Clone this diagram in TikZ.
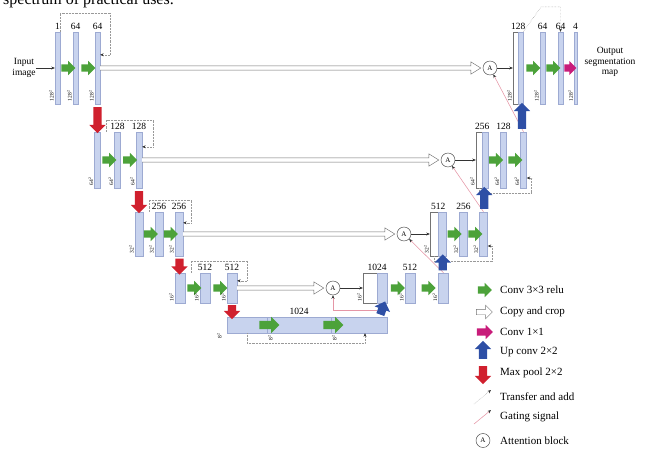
\documentclass[tikz,border=0pt]{standalone}
\usepackage{fontspec}
\setmainfont{Liberation Serif}
\usetikzlibrary{positioning,calc,shapes.arrows,arrows.meta}
\begin{document}
\begin{tikzpicture}[
    x=1pt,y=-1pt,
    font=\rmfamily\fontsize{9.5}{10.5}\selectfont,
    bar/.style={draw=barline,fill=barfill,line width=.4pt,inner sep=0pt},
    cbar/.style={draw=black!55,fill=white},
    lvone/.style={bar,minimum width=5pt,minimum height=72pt},
    lvtwo/.style={bar,minimum width=6pt,minimum height=56pt},
    lvthree/.style={bar,minimum width=8pt,minimum height=44pt},
    lvfour/.style={bar,minimum width=10pt,minimum height=30pt},
    botbar/.style={bar,minimum height=16pt},
    conv/.style={single arrow,fill=convgreen,inner sep=0pt,inner ysep=3.5pt,
      minimum height=14pt,single arrow head extend=3.5pt},
    convone/.style={conv,fill=convmag,minimum height=12pt},
    upconv/.style={conv,fill=upblue,rotate=90,inner ysep=4pt,single arrow head extend=4pt},
    maxpool/.style={conv,fill=poolred,rotate=-90,inner ysep=4pt,single arrow head extend=4pt,
      minimum height=22pt},
    copyicon/.style={single arrow,draw=black!55,fill=white,line width=.45pt,inner sep=0pt,
      inner ysep=2.5pt,minimum height=16pt,single arrow head extend=4pt},
    attn/.style={circle,draw=black!75,line width=.45pt,inner sep=0pt,minimum size=14pt,
      font=\rmfamily\fontsize{7}{7}\selectfont},
    copyarr/.style={draw=black!55,fill=white,line width=.45pt},
    thinarr/.style={draw=black!80,line width=.4pt,-{Stealth[length=3.5pt,width=3pt]}},
    transfer/.style={draw=black!40,densely dotted,line width=.45pt,
      -{Stealth[length=3.5pt,width=3pt,color=black!80]}},
    gating/.style={draw=gatepink,line width=.55pt,-{Stealth[length=3.5pt,width=3pt,color=black!80]}},
    sz/.style={rotate=90,inner sep=0pt,font=\rmfamily\fontsize{5.5}{6}\selectfont},
    lbl/.style={inner sep=0pt},
    legtext/.style={lbl,anchor=west,font=\rmfamily\fontsize{11}{12}\selectfont}
  ]
    \definecolor{barfill}{HTML}{C8D3EE}
    \definecolor{barline}{HTML}{9DAAD2}
    \definecolor{convgreen}{HTML}{4CA23A}
    \definecolor{convmag}{HTML}{C81C7A}
    \definecolor{upblue}{HTML}{2E4FA5}
    \definecolor{poolred}{HTML}{D0202E}
    \definecolor{gatepink}{HTML}{E596A6}
    \path[use as bounding box] (0,0) rectangle (649,448);
    \clip (0,0) rectangle (649,448);
    \node[lbl,anchor=base west,font=\rmfamily\fontsize{16}{16}\selectfont] (hdr) at (3,4)
      {spectrum of practical uses.};
    % encoder
    \node[lvone] (e11) at (57.5,68) {};
    \node[lvone] (e12) at (75.5,68) {};
    \node[lvone] (e13) at (97.5,68) {};
    \node[lvtwo] (e21) at (97.5,160) {};
    \node[lvtwo] (e22) at (117.5,160) {};
    \node[lvtwo] (e23) at (139,160) {};
    \node[lvthree] (e31) at (139,234) {};
    \node[lvthree] (e32) at (159,234) {};
    \node[lvthree] (e33) at (179,234) {};
    \node[lvfour] (e41) at (180,288) {};
    \node[lvfour] (e42) at (205,288) {};
    \node[lvfour] (e43) at (232,288) {};
    \node[botbar,minimum width=40pt] (b1) at (247,325) {};
    \node[botbar,minimum width=64pt] (b2) at (299,325) {};
    \node[botbar,minimum width=56pt] (b3) at (359,325) {};
    % decoder
    \node[lvfour,cbar,minimum width=14pt] (d4w) at (370,288) {};
    \node[lvfour] (d4b) at (382,288) {};
    \node[lvfour] (d42) at (410,288) {};
    \node[lvfour] (d43) at (443.5,288) {};
    \node[lvthree,cbar] (d3w) at (434,234) {};
    \node[lvthree] (d3b) at (442,234) {};
    \node[lvthree] (d32) at (463.5,234) {};
    \node[lvthree] (d33) at (483.5,234) {};
    \node[lvtwo,cbar] (d2w) at (479,160) {};
    \node[lvtwo] (d2b) at (485,160) {};
    \node[lvtwo] (d22) at (503.5,160) {};
    \node[lvtwo] (d23) at (523.5,160) {};
    \node[lvone,cbar] (d1w) at (515.5,68) {};
    \node[lvone] (d1b) at (520.5,68) {};
    \node[lvone] (d12) at (542.5,68) {};
    \node[lvone] (d13) at (560.5,68) {};
    \node[lvone,minimum width=2.5pt] (d14) at (575.5,68) {};
    \node[attn] (a1) at (490,68) {A};
    \node[attn] (a2) at (448,160) {A};
    \node[attn] (a3) at (404,234) {A};
    \node[attn] (a4) at (333,288) {A};
    % transfer and add
    \draw[transfer] (e11.north east) |- ($(e13.north east)+(10,-19)$) |- ($(e13.north east)+(0,23)$);
    \draw[transfer] ($(e21.north east)+(6,0)$) |- ($(e23.north east)+(11,-12)$) |- ($(e23.north east)+(0,15)$);
    \draw[transfer] ($(e31.north east)+(6,0)$) |- ($(e33.north east)+(8,-12)$) |- ($(e33.north east)+(0,11)$);
    \draw[transfer] ($(e41.north east)+(6,0)$) |- ($(e43.north east)+(10,-12)$) |- ($(e43.north east)+(0,8)$);
    \draw[transfer] (b1.south) |- ($(b3.south)+(6,10)$) -- ($(b3.south)+(6,0)$);
    \draw[transfer] (d1b.north east) -- ++(18,-25) -| (d13.north);
    \draw[transfer] (d2w.south) |- ($(d23.south east)+(5,5)$) |- ($(d23.east)+(0,18)$);
    \draw[transfer] (d3w.south) |- ($(d33.south east)+(5,5)$) |- ($(d33.east)+(0,12)$);
    % gating signal
    \draw[gating] (d23.north) -- (a1);
    \draw[gating] (d33.north) -- (a2);
    \draw[gating] (d43.north) -- (a3);
    % copy and crop
    \draw[copyarr] ($(e13.east)+(0,-2.2)$) -- ($(a1.west)+(-12,-2.2)$) -- ++(0,-4) -- ($(a1.west)+(-2,0)$)
      -- ($(a1.west)+(-12,6.2)$) -- ++(0,-4) -- ($(e13.east)+(0,2.2)$);
    \draw[copyarr] ($(e23.east)+(0,-2.2)$) -- ($(a2.west)+(-12,-2.2)$) -- ++(0,-4) -- ($(a2.west)+(-2,0)$)
      -- ($(a2.west)+(-12,6.2)$) -- ++(0,-4) -- ($(e23.east)+(0,2.2)$);
    \draw[copyarr] ($(e33.east)+(0,-2.2)$) -- ($(a3.west)+(-12,-2.2)$) -- ++(0,-4) -- ($(a3.west)+(-2,0)$)
      -- ($(a3.west)+(-12,6.2)$) -- ++(0,-4) -- ($(e33.east)+(0,2.2)$);
    \draw[copyarr] ($(e43.east)+(0,-2.2)$) -- ($(a4.west)+(-12,-2.2)$) -- ++(0,-4) -- ($(a4.west)+(-2,0)$)
      -- ($(a4.west)+(-12,6.2)$) -- ++(0,-4) -- ($(e43.east)+(0,2.2)$);
    \draw[thinarr] (a1) -- (d1w);
    \draw[thinarr] (a2) -- (d2w);
    \draw[thinarr] (a3) -- (d3w);
    \draw[thinarr] (a4) -- (d4w);
    % conv 3x3
    \node[conv] (c11) at ($(e11.east)!.5!(e12.west)$) {};
    \node[conv] (c12) at ($(e12.east)!.5!(e13.west)$) {};
    \node[conv] (c21) at ($(e21.east)!.5!(e22.west)$) {};
    \node[conv] (c22) at ($(e22.east)!.5!(e23.west)$) {};
    \node[conv] (c31) at ($(e31.east)!.5!(e32.west)$) {};
    \node[conv] (c32) at ($(e32.east)!.5!(e33.west)$) {};
    \node[conv] (c41) at ($(e41.east)!.5!(e42.west)$) {};
    \node[conv] (c42) at ($(e42.east)!.5!(e43.west)$) {};
    \node[conv,minimum height=20pt,inner ysep=4pt,single arrow head extend=4pt] (cb1) at (b1.east) {};
    \node[conv,minimum height=20pt,inner ysep=4pt,single arrow head extend=4pt] (cb2) at (b2.east) {};
    \node[conv] (k41) at ($(d4b.east)!.5!(d42.west)$) {};
    \node[conv] (k42) at ($(d42.east)!.5!(d43.west)$) {};
    \node[conv] (k31) at ($(d3b.east)!.5!(d32.west)$) {};
    \node[conv] (k32) at ($(d32.east)!.5!(d33.west)$) {};
    \node[conv] (k21) at ($(d2b.east)!.5!(d22.west)$) {};
    \node[conv] (k22) at ($(d22.east)!.5!(d23.west)$) {};
    \node[conv] (k11) at ($(d1b.east)!.5!(d12.west)$) {};
    \node[conv] (k12) at ($(d12.east)!.5!(d13.west)$) {};
    \node[convone] (k13) at ($(d13.east)!.5!(d14.west)$) {};
    % max pool
    \node[maxpool,minimum height=26pt] (p1) at ($(e13.south)!.5!(e21.north)$) {};
    \node[maxpool] (p2) at ($(e23.south)!.5!(e31.north)$) {};
    \node[maxpool,minimum height=16pt] (p3) at ($(e33.south)!.5!(e41.north)$) {};
    \node[maxpool,minimum height=14pt] (p4) at ($(e43.south)!.5!(e43.south|-b1.north)$) {};
    % up conv
    \node[upconv,minimum height=26pt] (u1) at ($(d23.north)!.5!(d1b.south)$) {};
    \node[upconv,minimum height=22pt] (u2) at ($(d33.north)!.5!(d2b.south)$) {};
    \node[upconv,minimum height=16pt] (u3) at ($(d43.north)!.5!(d3b.south)$) {};
    \node[upconv,minimum height=14pt,rotate=-20] (u4) at ($(d4b.south)!.5!(d4b.south|-b3.north)$) {};
    \draw[gating] (u4) -| (a4);
    % channels
    \node[lbl,above=2pt of e11] (l11) {1};
    \node[lbl,above=2pt of e12] (l12) {64};
    \node[lbl,above=2pt of e13] (l13) {64};
    \node[lbl,above=2pt of e22] (l22) {128};
    \node[lbl,above=2pt of e23] (l23) {128};
    \node[lbl,above=2pt of e32] (l32) {256};
    \node[lbl,above=2pt of e33] (l33) {256};
    \node[lbl,above=2pt of e42] (l42) {512};
    \node[lbl,above=2pt of e43] (l43) {512};
    \node[lbl,above=2pt of b2] (lb2) {1024};
    \node[lbl,above=2pt of d4w.north east] (m4) {1024};
    \node[lbl,above=2pt of d42] (m42) {512};
    \node[lbl,above=2pt of d3w.north east] (m3) {512};
    \node[lbl,above=2pt of d32] (m32) {256};
    \node[lbl,above=2pt of d2w.north east] (m2) {256};
    \node[lbl,above=2pt of d22] (m22) {128};
    \node[lbl,above=2pt of d1w.north east] (m1) {128};
    \node[lbl,above=2pt of d12] (m12) {64};
    \node[lbl,above=2pt of d13] (m13) {64};
    \node[lbl,above=2pt of d14] (m14) {4};
    % sizes
    \node[sz,anchor=south west] (s11) at ($(e11.south west)+(-1,-3)$) {128\textsuperscript{2}};
    \node[sz,anchor=south west] (s12) at ($(e12.south west)+(-1,-3)$) {128\textsuperscript{2}};
    \node[sz,anchor=south west] (s13) at ($(e13.south west)+(-1,-3)$) {128\textsuperscript{2}};
    \node[sz,anchor=south west] (s21) at ($(e21.south west)+(-1,-3)$) {64\textsuperscript{2}};
    \node[sz,anchor=south west] (s22) at ($(e22.south west)+(-1,-3)$) {64\textsuperscript{2}};
    \node[sz,anchor=south west] (s23) at ($(e23.south west)+(-1,-3)$) {64\textsuperscript{2}};
    \node[sz,anchor=south west] (s31) at ($(e31.south west)+(-1,-3)$) {32\textsuperscript{2}};
    \node[sz,anchor=south west] (s32) at ($(e32.south west)+(-1,-3)$) {32\textsuperscript{2}};
    \node[sz,anchor=south west] (s33) at ($(e33.south west)+(-1,-3)$) {32\textsuperscript{2}};
    \node[sz,anchor=south west] (s41) at ($(e41.south west)+(-1,-2)$) {16\textsuperscript{2}};
    \node[sz,anchor=south west] (s42) at ($(e42.south west)+(-1,-2)$) {16\textsuperscript{2}};
    \node[sz,anchor=south west] (s43) at ($(e43.south west)+(-1,-2)$) {16\textsuperscript{2}};
    \node[sz,anchor=north east] (sb1) at ($(b1.south west)+(-10,0)$) {8\textsuperscript{2}};
    \node[sz,anchor=north east] (sb2) at ($(b2.south west)+(1,2)$) {8\textsuperscript{2}};
    \node[sz,anchor=north east] (sb3) at ($(b3.south west)+(1,2)$) {8\textsuperscript{2}};
    \node[sz,anchor=south west] (t4w) at ($(d4w.south west)+(-1,-2)$) {16\textsuperscript{2}};
    \node[sz,anchor=south west] (t42) at ($(d42.south west)+(-1,-2)$) {16\textsuperscript{2}};
    \node[sz,anchor=south west] (t43) at ($(d43.south west)+(-1,-2)$) {16\textsuperscript{2}};
    \node[sz,anchor=south west] (t3w) at ($(d3w.south west)+(-1,-3)$) {32\textsuperscript{2}};
    \node[sz,anchor=south west] (t32) at ($(d32.south west)+(-1,-3)$) {32\textsuperscript{2}};
    \node[sz,anchor=south west] (t33) at ($(d33.south west)+(-1,-3)$) {32\textsuperscript{2}};
    \node[sz,anchor=south west] (t2w) at ($(d2w.south west)+(-1,-3)$) {64\textsuperscript{2}};
    \node[sz,anchor=south west] (t22) at ($(d22.south west)+(-1,-3)$) {64\textsuperscript{2}};
    \node[sz,anchor=south west] (t23) at ($(d23.south west)+(-1,-3)$) {64\textsuperscript{2}};
    \node[sz,anchor=south west] (t1w) at ($(d1w.south west)+(-1,-3)$) {128\textsuperscript{2}};
    \node[sz,anchor=south west] (t12) at ($(d12.south west)+(-1,-3)$) {128\textsuperscript{2}};
    \node[sz,anchor=south west] (t14) at ($(d14.south west)+(-1,-3)$) {128\textsuperscript{2}};
    % input and output
    \node[lbl,align=center] (inp) at (24,68) {Input\\image};
    \draw[thinarr] (inp) -- (e11);
    \node[lbl,align=center] (outp) at (610,62) {Output\\segmentation\\map};
    % legend
    \node[conv] (li1) at (483,290) {};
    \node[copyicon] (li2) at (483,312) {};
    \node[convone,minimum height=16pt] (li3) at (483,332) {};
    \node[upconv,minimum height=18pt] (li4) at (483,352) {};
    \node[maxpool,minimum height=18pt] (li5) at (483,373) {};
    \coordinate (tr0) at (474,404);
    \coordinate (tr1) at (491,390);
    \draw[transfer] (tr0) -- (tr1);
    \coordinate (gt0) at (474,424);
    \coordinate (gt1) at (491,410);
    \draw[gating] (gt0) -- (gt1);
    \node[attn] (li8) at (483,440.5) {A};
    \node[legtext] (lt1) at (500,290) {Conv 3×3 relu};
    \node[legtext] (lt2) at (500,312) {Copy and crop};
    \node[legtext] (lt3) at (500,332) {Conv 1×1};
    \node[legtext] (lt4) at (500,352) {Up conv 2×2};
    \node[legtext] (lt5) at (500,373) {Max pool 2×2};
    \node[legtext] (lt6) at (500,397) {Transfer and add};
    \node[legtext] (lt7) at (500,417) {Gating signal};
    \node[legtext] (lt8) at (500,441) {Attention block};
  \end{tikzpicture}
\end{document}
